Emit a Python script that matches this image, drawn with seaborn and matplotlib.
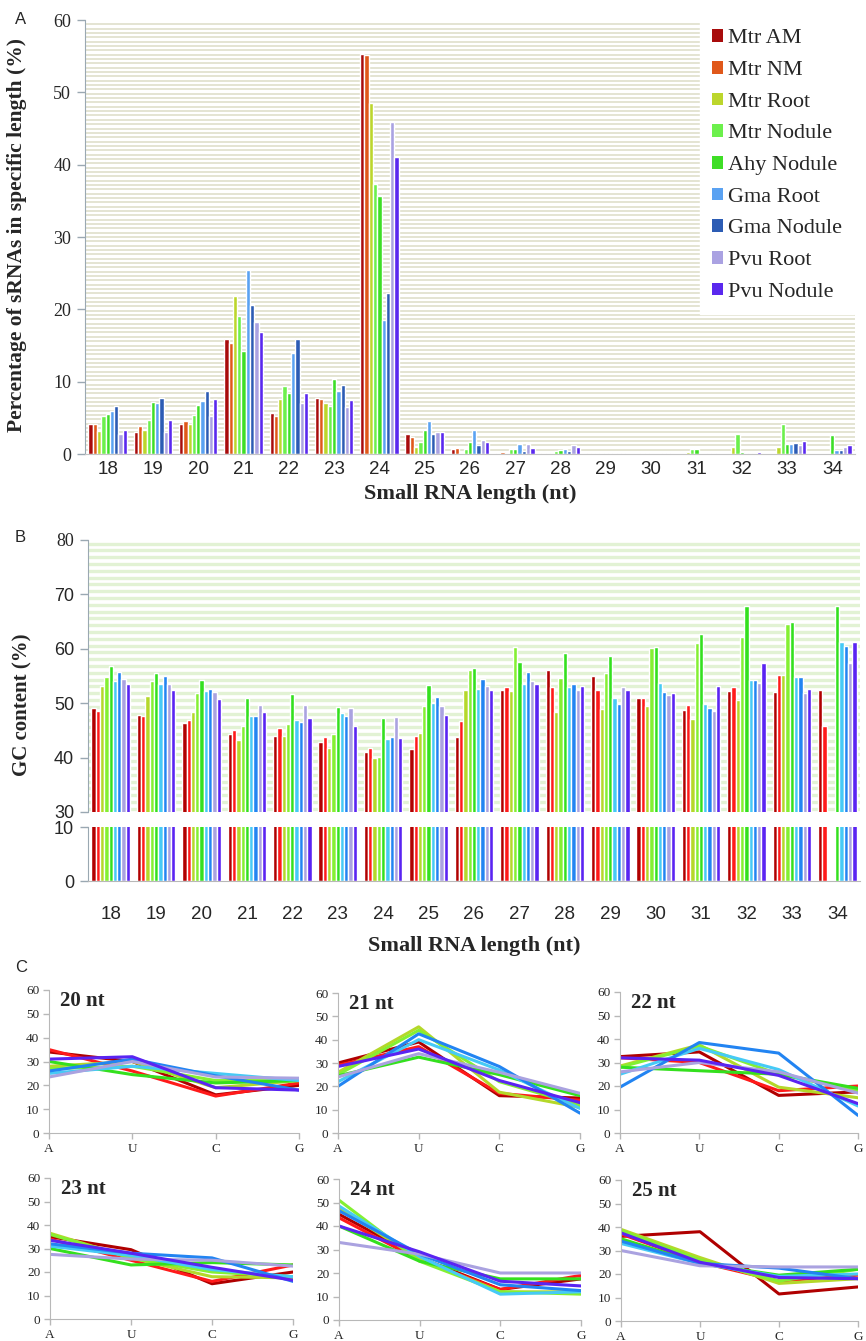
import numpy as np
import pandas as pd
import matplotlib
matplotlib.use("Agg")
import matplotlib.pyplot as plt
import seaborn as sns
from matplotlib.patches import Patch

# ---- data ----
lengths = [str(n) for n in range(18, 35)]
samples = ["Mtr AM", "Mtr NM", "Mtr Root", "Mtr Nodule", "Ahy Nodule",
           "Gma Root", "Gma Nodule", "Pvu Root", "Pvu Nodule"]

# A: percentage of sRNAs in each length
pct_mtr_am = [4.15, 3.1, 4.1, 15.9, 5.6, 7.8, 55.3, 2.8, 0.75, 0.2, 0.1, 0.1, 0.05, 0.05, 0.05, 0.05, 0]
pct_mtr_nm = [4.2, 3.9, 4.5, 15.3, 5.3, 7.6, 55.2, 2.35, 0.85, 0.25, 0.15, 0.1, 0.05, 0.05, 0.05, 0.05, 0]
pct_mtr_root = [3.2, 3.3, 4.1, 21.8, 7.6, 7.1, 48.5, 0.9, 0.2, 0.2, 0.1, 0.1, 0.1, 0.3, 0.9, 0.9, 0]
pct_mtr_nod = [5.2, 4.7, 5.4, 19.1, 9.4, 6.6, 37.3, 1.7, 0.75, 0.75, 0.4, 0.15, 0.1, 0.7, 2.8, 4.2, 0]
pct_ahy_nod = [5.5, 7.2, 6.8, 14.2, 8.4, 10.3, 35.7, 3.3, 1.7, 0.75, 0.55, 0.1, 0.05, 0.7, 0.3, 1.4, 2.6]
pct_gma_root = [5.9, 7.0, 7.3, 25.5, 13.9, 8.7, 18.5, 4.5, 3.3, 1.4, 0.7, 0.1, 0.05, 0.05, 0.2, 1.4, 0.6]
pct_gma_nod = [6.7, 7.8, 8.7, 20.6, 15.9, 9.6, 22.3, 2.8, 1.3, 0.4, 0.45, 0.1, 0.05, 0.05, 0.2, 1.5, 0.6]
pct_pvu_root = [2.7, 3.1, 5.3, 18.2, 7.1, 6.5, 45.9, 3.0, 1.9, 1.4, 1.25, 0.2, 0.15, 0.15, 0.1, 1.3, 1.0]
pct_pvu_nod = [3.3, 4.7, 7.6, 16.8, 8.4, 7.4, 41.0, 3.0, 1.6, 0.85, 0.95, 0.15, 0.1, 0.1, 0.25, 1.8, 1.25]

# B: GC content per length
gc_mtr_am = [49.2, 47.8, 46.4, 44.3, 43.9, 42.8, 41.1, 41.5, 43.7, 52.4, 56.1, 55.0, 51.0, 48.8, 52.2, 52.1, 52.5]
gc_mtr_nm = [48.6, 47.7, 46.9, 45.1, 45.4, 43.7, 41.7, 43.9, 46.7, 52.9, 52.9, 52.4, 50.9, 49.6, 52.9, 55.2, 45.8]
gc_mtr_root = [53.1, 51.4, 48.4, 43.3, 44.0, 41.8, 39.9, 44.5, 52.4, 52.3, 48.4, 48.9, 49.5, 47.1, 50.5, 55.1, np.nan]
gc_mtr_nod = [54.8, 54.1, 51.9, 45.9, 46.1, 44.3, 40.1, 49.4, 56.1, 60.4, 54.7, 55.6, 60.2, 61.1, 62.2, 64.6, np.nan]
gc_ahy_nod = [56.9, 55.6, 54.3, 51.0, 51.6, 49.3, 47.3, 53.3, 56.5, 57.5, 59.3, 58.6, 60.3, 62.7, 67.8, 64.9, 67.8]
gc_gma_root = [54.1, 53.5, 52.2, 47.7, 46.9, 48.2, 43.4, 50.0, 52.7, 53.6, 52.9, 51.0, 53.7, 49.9, 54.3, 54.8, 61.3]
gc_gma_nod = [55.8, 55.0, 52.7, 47.7, 46.6, 47.7, 43.7, 51.1, 54.4, 55.8, 53.5, 49.9, 52.1, 49.1, 54.3, 54.8, 60.5]
gc_pvu_root = [54.4, 53.5, 52.1, 49.7, 49.6, 49.2, 47.4, 49.5, 53.1, 54.0, 52.4, 52.9, 51.5, 48.6, 53.7, 51.9, 57.4]
gc_pvu_nod = [53.5, 52.4, 50.7, 48.3, 47.3, 45.9, 43.6, 47.9, 52.4, 53.6, 53.1, 52.4, 51.8, 53.1, 57.4, 52.6, 61.3]

# C: nucleotide composition (A, U, C, G) per sample
bases = ["A", "U", "C", "G"]
comp_20 = [[34, 30, 16, 20], [35, 26, 15.5, 21], [28, 30, 19, 22], [27, 28, 22, 22], [30, 24.5, 21, 22],
           [25, 28, 25, 22], [26, 31, 24, 18], [23.5, 30, 23.5, 23], [31, 32, 19, 18]]
comp_21 = [[30, 39, 16, 15], [29, 37, 17, 14], [26, 45.5, 17.5, 11], [25, 44, 22, 12], [24.5, 32.5, 25, 16],
           [22, 40, 27, 10.5], [20, 42.5, 28.5, 8.5], [24, 34, 26, 17], [28.5, 36, 22.5, 13]]
comp_22 = [[32.5, 34.5, 16, 17.5], [32, 30, 18, 20], [28.5, 37.5, 19.5, 15], [28, 37, 25, 18], [28, 26.5, 25, 19],
           [25, 36, 27, 11.5], [19.5, 38.5, 34, 7.5], [26, 30, 26, 17], [32, 31, 24.5, 12.5]]
comp_23 = [[35, 29.5, 15, 20], [34, 25, 16, 23], [36.5, 26, 18, 17.5], [36, 26, 20, 18], [30, 23, 24, 23],
           [31, 27, 21, 18], [32, 28, 26, 16], [27.5, 25.5, 25, 22.5], [33.5, 28, 22, 16.5]]
comp_24 = [[45, 26.5, 13, 17.5], [43.5, 25.5, 13, 19], [47.5, 26, 12, 12], [51, 25, 12, 11], [40, 25, 17.5, 17.5],
           [48.5, 27, 11, 12], [46.5, 28, 15, 12.5], [33, 28, 20, 20], [40, 29, 16.5, 14.5]]
comp_25 = [[36, 38, 11.5, 14.5], [37, 25, 17, 19.5], [39, 27, 16, 18], [38.5, 26, 17, 22], [35, 24.5, 19.5, 22],
           [33, 24.5, 19, 20], [34, 24.5, 22.5, 18], [30, 23.5, 23, 23], [37.5, 25, 18.5, 18]]
comp_titles = ["20 nt", "21 nt", "22 nt", "23 nt", "24 nt", "25 nt"]

colors_a = ["#a80c0c", "#e0581a", "#bcd62c", "#6cf04c", "#3ede26",
            "#5aa2f2", "#2c5cb4", "#aaa2e2", "#5a28ee"]
colors_b = ["#b00000", "#ff1a1a", "#b4d82a", "#84f032", "#34e01e",
            "#46caf6", "#2284f2", "#aaa2e0", "#5a24f2"]

df_a = pd.DataFrame({
    "length": np.tile(lengths, len(samples)),
    "sample": np.repeat(samples, len(lengths)),
    "pct": np.concatenate([pct_mtr_am, pct_mtr_nm, pct_mtr_root, pct_mtr_nod, pct_ahy_nod,
                           pct_gma_root, pct_gma_nod, pct_pvu_root, pct_pvu_nod]),
})
df_b = pd.DataFrame({
    "length": np.tile(lengths, len(samples)),
    "sample": np.repeat(samples, len(lengths)),
    "gc": np.concatenate([gc_mtr_am, gc_mtr_nm, gc_mtr_root, gc_mtr_nod, gc_ahy_nod,
                          gc_gma_root, gc_gma_nod, gc_pvu_root, gc_pvu_nod]),
})

# ---- layout ----
sns.set_style("white")
plt.rcParams["font.family"] = ["Liberation Serif", "DejaVu Serif"]
W, H = 866, 1341
fig = plt.figure(figsize=(W / 100, H / 100), dpi=100)


def rect(l, r, t, b):
    return [l / W, 1 - b / H, (r - l) / W, (b - t) / H]


SANS = ["Liberation Sans", "DejaVu Sans"]
SPINE = "#9aa8b2"

# ---- A ----
axA = fig.add_axes(rect(85, 855, 20, 454))
axA.hlines(np.arange(0.6, 60, 0.6), -0.5, 16.5, color="#dcdcc6", lw=1.1, zorder=0)
sns.barplot(data=df_a, x="length", y="pct", hue="sample", hue_order=samples, order=lengths,
            palette=colors_a, saturation=1, width=0.85, gap=0, legend=False, ax=axA, zorder=2)
axA.set_xlim(-0.5, 16.5)
axA.set_ylim(0, 60)
axA.set_yticks(range(0, 61, 10))
axA.tick_params(axis="y", length=6, width=1, color=SPINE, labelsize=13, pad=4, left=True)
axA.tick_params(axis="x", length=0, pad=5)
for lab in axA.get_xticklabels():
    lab.set_fontfamily(SANS)
    lab.set_fontsize(13.5)
sns.despine(ax=axA)
axA.spines["left"].set_color(SPINE)
axA.spines["bottom"].set_color("#c4c4c4")
axA.set_xlabel("Small RNA length (nt)", fontsize=16, fontweight="bold", labelpad=4)
axA.set_ylabel("")
fig.text(17 / W, 1 - 235 / H, "Percentage of sRNAs in specific length (%)", rotation=90,
         ha="center", va="center", fontsize=15.5, fontweight="bold")

handles = [Patch(facecolor=c, edgecolor="none") for c in colors_a]
fig.legend(handles, samples, loc="upper left", bbox_to_anchor=(700 / W, 1 - 17 / H),
           frameon=True, facecolor="white", edgecolor="white", framealpha=1, fancybox=False,
           fontsize=16, handlelength=0.5, handleheight=0.5, handletextpad=0.2,
           labelspacing=0.56, borderpad=0.55, borderaxespad=0)

# ---- B (broken axis) ----
axB = fig.add_axes(rect(88, 860, 540, 812))
axB2 = fig.add_axes(rect(88, 860, 827, 881))
axB.hlines(np.arange(30.6, 80.1, 1.25), -0.5, 16.5, color="#e2f2d4", lw=2.4, zorder=0)
for ax in (axB, axB2):
    sns.barplot(data=df_b, x="length", y="gc", hue="sample", hue_order=samples, order=lengths,
                palette=colors_b, saturation=1, width=0.85, gap=0, legend=False, ax=ax, zorder=2)
    ax.set_xlim(-0.5, 16.5)
    ax.set_xlabel("")
    ax.set_ylabel("")
    sns.despine(ax=ax)
    ax.spines["left"].set_color(SPINE)
    ax.tick_params(axis="y", length=6, width=1, color=SPINE, labelsize=13, pad=4, left=True)
    for lab in ax.get_yticklabels():
        lab.set_fontfamily(SANS)
axB.set_ylim(30, 80)
axB.set_yticks(range(30, 81, 10))
axB.spines["bottom"].set_visible(False)
axB.tick_params(axis="x", length=0, labelbottom=False)
axB2.set_ylim(0, 10)
axB2.set_yticks([0, 10])
axB2.spines["bottom"].set_color("#b8b8b8")
axB2.tick_params(axis="x", length=0, pad=18)
for lab in axB2.get_xticklabels():
    lab.set_fontfamily(SANS)
    lab.set_fontsize(13.5)
axB2.set_xlabel("Small RNA length (nt)", fontsize=16, fontweight="bold", labelpad=9)
fig.text(22 / W, 1 - 705 / H, "GC content (%)", rotation=90, ha="center", va="center",
         fontsize=15, fontweight="bold")

# ---- C ----
c_rects = [rect(49, 299, 990, 1133), rect(338, 580, 993, 1133), rect(620, 858, 992, 1133),
           rect(50, 293, 1178, 1319), rect(339, 581, 1179, 1320), rect(621, 858, 1180, 1321)]
comps = [comp_20, comp_21, comp_22, comp_23, comp_24, comp_25]
for r, rows, title in zip(c_rects, comps, comp_titles):
    ax = fig.add_axes(r)
    df_c = pd.DataFrame([(s, b, v) for s, row in zip(samples, rows) for b, v in zip(bases, row)],
                        columns=["sample", "base", "pct"])
    sns.lineplot(data=df_c, x="base", y="pct", hue="sample", hue_order=samples, palette=colors_b,
                 lw=2.2, sort=False, legend=False, ax=ax)
    ax.set_xlim(0, 3)
    ax.set_ylim(0, 60)
    ax.set_yticks(range(0, 61, 10))
    ax.set_xlabel("")
    ax.set_ylabel("")
    sns.despine(ax=ax)
    for sp in ("left", "bottom"):
        ax.spines[sp].set_color("#b8b8b8")
    ax.tick_params(length=4, width=1, color="#b8b8b8", labelsize=9.5, pad=3, left=True, bottom=True)
    ax.text(0.045, 0.99, title, transform=ax.transAxes, ha="left", va="top",
            fontsize=15, fontweight="bold")

for lab, y in (("A", 20), ("B", 538), ("C", 968)):
    fig.text(15 / W, 1 - y / H, lab, ha="left", va="center", fontsize=12, family=SANS)

fig.savefig("out.png", dpi=100)
